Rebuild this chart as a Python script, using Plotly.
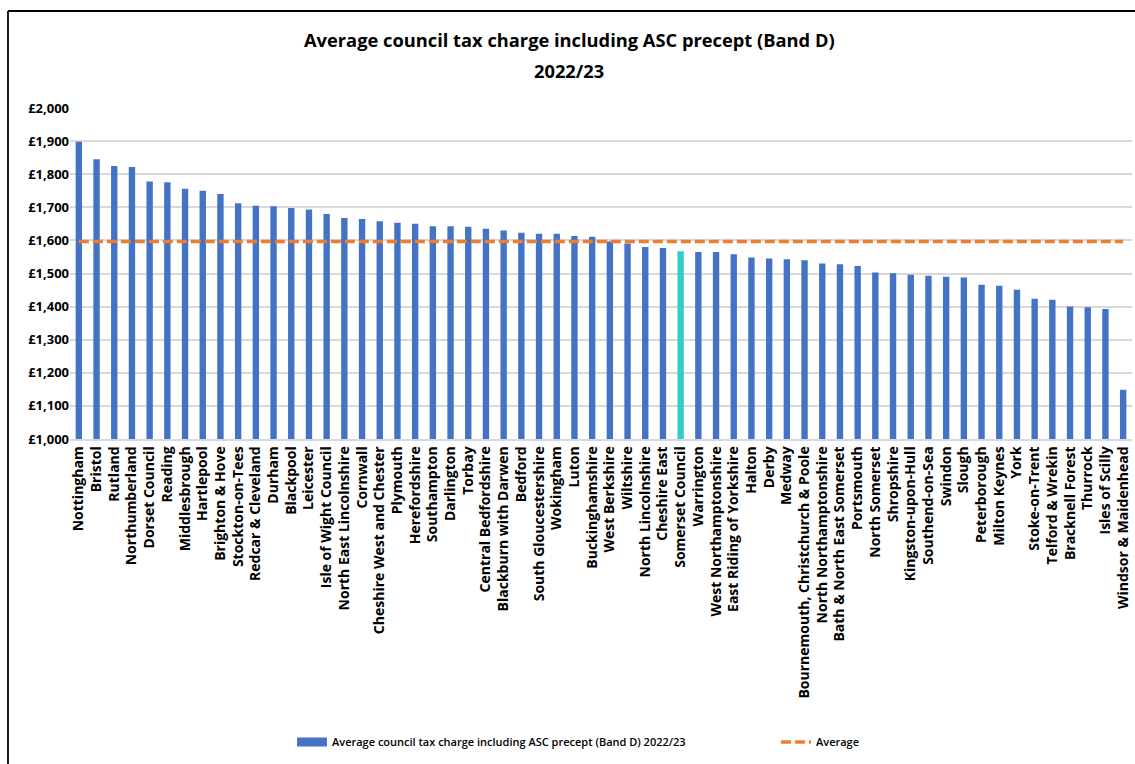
import plotly.graph_objects as go

councils = [
    "Nottingham", "Bristol", "Rutland", "Northumberland", "Dorset Council", "Reading",
    "Middlesbrough", "Hartlepool", "Brighton & Hove", "Stockton-on-Tees", "Redcar & Cleveland",
    "Durham", "Blackpool", "Leicester", "Isle of Wight Council", "North East Lincolnshire",
    "Cornwall", "Cheshire West and Chester", "Plymouth", "Herefordshire", "Southampton",
    "Darlington", "Torbay", "Central Bedfordshire", "Blackburn with Darwen", "Bedford",
    "South Gloucestershire", "Wokingham", "Luton", "Buckinghamshire", "West Berkshire",
    "Wiltshire", "North Lincolnshire", "Cheshire East", "Somerset Council", "Warrington",
    "West Northamptonshire", "East Riding of Yorkshire", "Halton", "Derby", "Medway",
    "Bournemouth, Christchurch & Poole", "North Northamptonshire", "Bath & North East Somerset",
    "Portsmouth", "North Somerset", "Shropshire", "Kingston-upon-Hull", "Southend-on-Sea",
    "Swindon", "Slough", "Peterborough", "Milton Keynes", "York", "Stoke-on-Trent",
    "Telford & Wrekin", "Bracknell Forest", "Thurrock", "Isles of Scilly", "Windsor & Maidenhead",
]

charges = [
    1898, 1845, 1825, 1822, 1778, 1776, 1756, 1750, 1740, 1712, 1705,
    1703, 1698, 1693, 1680, 1668, 1665, 1658, 1653, 1650, 1643,
    1643, 1641, 1635, 1630, 1623, 1620, 1620, 1613, 1611, 1597,
    1591, 1580, 1577, 1567, 1565, 1565, 1558, 1548, 1545, 1543,
    1540, 1530, 1528, 1523, 1503, 1501, 1496, 1493, 1490, 1488,
    1466, 1463, 1451, 1424, 1421, 1400, 1398, 1393, 1149,
]

highlight_council = "Somerset Council"
average_charge = 1597

y_ticks = list(range(1000, 2001, 100))
y_tick_labels = [f"£{v:,}" for v in y_ticks]

title_lines = ["Average council tax charge including ASC precept (Band D)", "2022/23"]
bar_series_name = "Average council tax charge including ASC precept (Band D) 2022/23"
avg_series_name = "Average"

BLUE = "#4472C4"
TEAL = "#33CCCC"
ORANGE = "#ED7D31"

W, H = 1135, 764
L, R, T, B = 70, 3, 108, 325
plot_w = W - L - R
plot_h = H - T - B


def px_to_paper(px, py):
    return (px - L) / plot_w, (H - B - py) / plot_h


colors = [TEAL if c == highlight_council else BLUE for c in councils]

fig = go.Figure()
fig.add_trace(go.Bar(
    x=councils, y=charges, marker=dict(color=colors, line=dict(width=0)),
    name=bar_series_name, showlegend=False,
))
# legend-only entry with a wide rectangular swatch for the bar series
fig.add_trace(go.Scatter(
    x=[None], y=[None], mode="lines", line=dict(color=BLUE, width=9),
    name=bar_series_name, legend="legend", hoverinfo="skip",
))
fig.add_trace(go.Scatter(
    x=councils, y=[average_charge] * len(councils), mode="lines",
    line=dict(color=ORANGE, width=3.5, dash="10px,4px"), name=avg_series_name,
    legend="legend2",
))

# chart frame (top and left edges)
fx0, fy_top = px_to_paper(8, 11)
fx1, fy_bot = px_to_paper(W + 5, H + 5)
fig.add_shape(type="line", xref="paper", yref="paper", x0=fx0, y0=fy_top, x1=fx1, y1=fy_top,
              line=dict(color="#000000", width=1.8))
fig.add_shape(type="line", xref="paper", yref="paper", x0=fx0, y0=fy_top, x1=fx0, y1=fy_bot,
              line=dict(color="#000000", width=1.8))

for line_text, py in zip(title_lines, [40, 70]):
    tx, ty = px_to_paper(569, py)
    fig.add_annotation(xref="paper", yref="paper", x=tx, y=ty, xanchor="center", yanchor="middle",
                       text="<b>" + line_text + "</b>", showarrow=False,
                       font=dict(family="Open Sans", size=18.3, color="#000000"))

legend_font = dict(family="Open Sans", size=11, color="#000000", weight=600)
l1x, ly = px_to_paper(292, 742)
l2x, _ = px_to_paper(776, 742)
fig.update_layout(
    width=W, height=H,
    margin=dict(l=L, r=R, t=T, b=B, autoexpand=False),
    paper_bgcolor="white", plot_bgcolor="white",
    bargap=0.64,
    showlegend=True,
    legend=dict(orientation="h", x=l1x, y=ly, xanchor="left", yanchor="middle",
                font=legend_font, itemwidth=30, bgcolor="rgba(0,0,0,0)"),
    legend2=dict(orientation="h", x=l2x, y=ly, xanchor="left", yanchor="middle",
                 font=legend_font, itemwidth=30, bgcolor="rgba(0,0,0,0)"),
    font=dict(family="Open Sans", color="#000000"),
)
fig.update_xaxes(
    type="category", range=[-0.5, len(councils) - 0.5], tickangle=-90,
    tickfont=dict(family="Open Sans", size=14, color="#000000", weight="bold"),
    showgrid=False, showline=True, linecolor="#d9d9d9", linewidth=1.5, ticks="",
    automargin=False,
)
fig.update_yaxes(
    range=[1000, 2000], tickvals=y_ticks, ticktext=y_tick_labels,
    tickfont=dict(family="Open Sans", size=13, color="#000000", weight="bold"),
    showgrid=True, gridcolor="#d9d9d9", gridwidth=1.5, zeroline=False, ticks="",
    automargin=False,
)

fig.write_html("out.html", config={"displayModeBar": False},
               post_script="document.body.style.margin='0';")
